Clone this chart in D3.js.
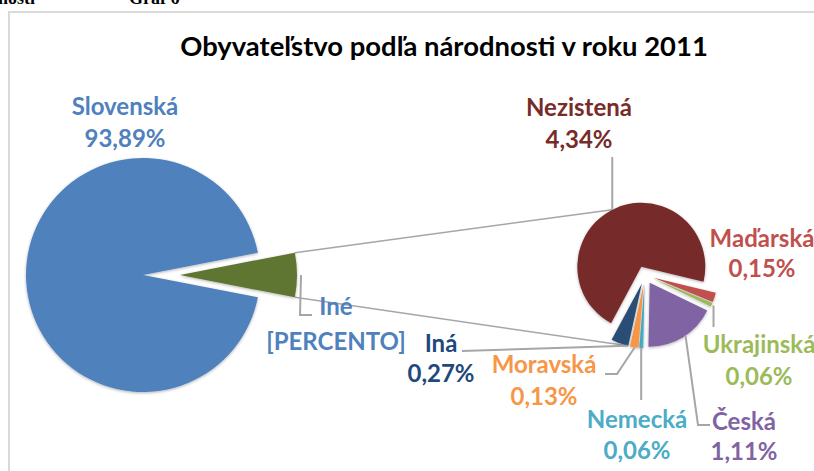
<!DOCTYPE html>
<html>
<head>
<meta charset="utf-8">
<script src="https://cdn.jsdelivr.net/npm/d3@7/dist/d3.min.js"></script>
<style>
  body { margin: 0; background: #fff; }
  svg text { font-family: Lato, 'Open Sans', sans-serif; font-weight: bold; }
</style>
</head>
<body>
<div id="chart"></div>
<script>
'use strict';

// primary pie
var mainCategories = [ 'Iné', 'Slovenská' ];
var mainValues = [ 6.11, 93.89 ];
var mainColors = [ '#5f7530', '#4f81bd' ];
var mainLabelColors = [ '#4f81bd', '#4f81bd' ];

// secondary pie: breakdown of "Iné"
var subCategories = [ 'Maďarská', 'Ukrajinská', 'Česká', 'Nemecká', 'Moravská', 'Iná', 'Nezistená' ];
var subValues = [ 0.15, 0.06, 1.11, 0.06, 0.13, 0.27, 4.34 ];
var subColors = [ '#c0504d', '#9bbb59', '#8064a2', '#4bacc6', '#f79646', '#2c4d75', '#772c2a' ];
var subLabelColors = [ '#c0504d', '#9bbb59', '#8064a2', '#4bacc6', '#f79646', '#1f497d', '#772c2a' ];

var title = 'Obyvateľstvo podľa národnosti v roku 2011';

// layout
var width = 814,
    height = 471,
    labelSize = 24,
    rad = Math.PI / 180;

var main = { cx: 143, cy: 275, r: 117, explode: 37 },
    sub = { cx: 645, cy: 275, r: 64, explode: 9, start: 103.5 };

// label anchor (centre x, baseline 1, baseline 2) and leader lines
var labelPos = {
  'Slovenská': [ 125, 115, 147 ],
  'Iné': [ 336, 315, 350 ],
  'Nezistená': [ 579, 116, 148 ],
  'Maďarská': [ 762, 247, 277 ],
  'Ukrajinská': [ 759, 353, 385 ],
  'Česká': [ 744, 430, 460 ],
  'Nemecká': [ 637, 428, 459 ],
  'Moravská': [ 544, 373, 405 ],
  'Iná': [ 441, 352, 382 ]
};

// leader: angle on slice (deg), then elbow points
var leaders = {
  'Iné': { angle: 90, gap: 4, points: [ [ 300, 315 ], [ 312, 315 ] ] },
  'Nezistená': { angle: 333, gap: 0, points: [ [ null, 157 ] ] },
  'Ukrajinská': { angle: 114, gap: 2, points: [ [ null, 327 ] ] },
  'Česká': { angle: 146, gap: 0, points: [ [ 698, 425 ], [ 710, 425 ] ] },
  'Nemecká': { angle: 183, gap: 0, points: [ [ null, 400 ] ] },
  'Moravská': { angle: 188, gap: 0, points: [ [ 617, 374 ], [ 605, 374 ] ] },
  'Iná': { angle: 193, gap: 0, points: [ [ 462, 351 ] ] }
};

var fmt = d3.formatLocale( { decimal: ',', thousands: ' ', grouping: [ 3 ], currency: [ '', '' ] } ).format( '.2f' );

var svg = d3.select( '#chart' )
  .append( 'svg' )
    .attr( 'width', width )
    .attr( 'height', height );

var defs = svg.append( 'defs' );
defs.append( 'filter' )
    .attr( 'id', 'shadow' )
    .attr( 'x', '-20%' ).attr( 'y', '-20%' )
    .attr( 'width', '140%' ).attr( 'height', '140%' )
  .append( 'feDropShadow' )
    .attr( 'dx', 0 )
    .attr( 'dy', 1 )
    .attr( 'stdDeviation', 1.8 )
    .attr( 'flood-color', '#000' )
    .attr( 'flood-opacity', 0.3 );

// page text cut off above the chart
svg.append( 'text' )
    .attr( 'x', -2 ).attr( 'y', 4 )
    .style( 'font-family', '"Liberation Serif", serif' )
    .style( 'font-size', '18px' )
    .text( 'nosti' );
svg.append( 'text' )
    .attr( 'x', 129 ).attr( 'y', 4 )
    .style( 'font-family', '"Liberation Serif", serif' )
    .style( 'font-size', '18px' )
    .text( 'Graf 6' );

// chart area border
svg.append( 'rect' )
    .attr( 'x', 9 ).attr( 'y', 12 )
    .attr( 'width', 830 ).attr( 'height', 500 )
    .attr( 'fill', '#fff' )
    .attr( 'stroke', '#d9d9d9' )
    .attr( 'stroke-width', 2 );

// title, fitted to the width of the original
var titleText = svg.append( 'text' )
    .attr( 'x', 444 )
    .attr( 'y', 56 )
    .attr( 'text-anchor', 'middle' )
    .style( 'font-size', '24px' )
    .attr( 'fill', '#000' )
    .text( title );
var tw = titleText.node().getComputedTextLength();
titleText.style( 'font-size', ( 24 * 528 / tw ) + 'px' );

function offset( d, e ) {
  var a = ( d.startAngle + d.endAngle ) / 2;
  return [ e * Math.sin( a ), -e * Math.cos( a ) ];
}

function slicePoint( pie, d, e, angle, extra ) {
  var o = offset( d, e ),
      r = pie.r + ( extra || 0 );
  return [ pie.cx + o[ 0 ] + r * Math.sin( angle * rad ),
           pie.cy + o[ 1 ] - r * Math.cos( angle * rad ) ];
}

// primary pie arcs
var mainSpan = 2 * Math.PI * mainValues[ 0 ] / d3.sum( mainValues );
var mainArcs = d3.pie()
    .sort( null )
    .startAngle( Math.PI / 2 - mainSpan / 2 )
    .endAngle( Math.PI / 2 - mainSpan / 2 + 2 * Math.PI )
    ( mainValues );
mainArcs.forEach( function( d, i ) {
  d.name = mainCategories[ i ];
  d.explode = i === 0 ? main.explode : 0;
} );

// secondary pie arcs
var subStart = sub.start * rad;
var subArcs = d3.pie()
    .sort( null )
    .startAngle( subStart )
    .endAngle( subStart + 2 * Math.PI )
    ( subValues );
subArcs.forEach( function( d, i ) {
  d.name = subCategories[ i ];
  d.explode = sub.explode;
} );

var greenArc = mainArcs[ 0 ];
var byName = {};
subArcs.forEach( function( d ) { byName[ d.name ] = d; } );

// series lines between the two pies
var seriesLines = [
  [ slicePoint( main, greenArc, main.explode, greenArc.startAngle / rad ),
    slicePoint( sub, byName[ 'Nezistená' ], sub.explode, 333 ) ],
  [ slicePoint( main, greenArc, main.explode, greenArc.endAngle / rad ),
    slicePoint( sub, byName[ 'Iná' ], sub.explode, 193 ) ]
];
svg.selectAll( 'line.series' )
    .data( seriesLines )
  .enter().append( 'line' )
    .attr( 'class', 'series' )
    .attr( 'x1', function( d ) { return d[ 0 ][ 0 ]; } )
    .attr( 'y1', function( d ) { return d[ 0 ][ 1 ]; } )
    .attr( 'x2', function( d ) { return d[ 1 ][ 0 ]; } )
    .attr( 'y2', function( d ) { return d[ 1 ][ 1 ]; } )
    .attr( 'stroke', '#a6a6a6' )
    .attr( 'stroke-width', 1.5 );

function drawPie( pie, arcs, colors ) {
  var arc = d3.arc().innerRadius( 0 ).outerRadius( pie.r );
  svg.append( 'g' )
      .attr( 'transform', 'translate(' + pie.cx + ',' + pie.cy + ')' )
    .selectAll( 'path' )
      .data( arcs )
    .enter().append( 'path' )
      .attr( 'd', arc )
      .attr( 'transform', function( d ) {
        var o = offset( d, d.explode );
        return 'translate(' + o[ 0 ] + ',' + o[ 1 ] + ')';
      } )
      .attr( 'fill', function( d, i ) { return colors[ i ]; } )
      .attr( 'filter', 'url(#shadow)' );
}

drawPie( main, mainArcs, mainColors );
drawPie( sub, subArcs, subColors );

// leader lines
var line = d3.line();
function drawLeader( pie, d ) {
  var spec = leaders[ d.name ];
  if ( !spec ) return;
  var p0 = slicePoint( pie, d, d.explode, spec.angle, spec.gap );
  var pts = [ p0 ].concat( spec.points.map( function( p ) {
    return [ p[ 0 ] === null ? p0[ 0 ] : p[ 0 ], p[ 1 ] ];
  } ) );
  svg.append( 'path' )
      .attr( 'd', line( pts ) )
      .attr( 'fill', 'none' )
      .attr( 'stroke', '#a6a6a6' )
      .attr( 'stroke-width', 2 );
}
drawLeader( main, greenArc );
subArcs.forEach( function( d ) { drawLeader( sub, d ); } );

// data labels
function drawLabel( name, value, color ) {
  var pos = labelPos[ name ];
  var g = svg.append( 'g' )
      .attr( 'fill', color )
      .attr( 'text-anchor', 'middle' )
      .style( 'font-size', labelSize + 'px' );
  g.append( 'text' ).attr( 'x', pos[ 0 ] ).attr( 'y', pos[ 1 ] ).text( name );
  g.append( 'text' ).attr( 'x', pos[ 0 ] ).attr( 'y', pos[ 2 ] ).text( value );
}

mainArcs.forEach( function( d, i ) {
  // the "Iné" label shows Excel's unresolved field placeholder
  drawLabel( d.name, i === 0 ? '[PERCENTO]' : fmt( d.value ) + '%', mainLabelColors[ i ] );
} );
subArcs.forEach( function( d, i ) {
  drawLabel( d.name, fmt( d.value ) + '%', subLabelColors[ i ] );
} );
</script>
</body>
</html>
